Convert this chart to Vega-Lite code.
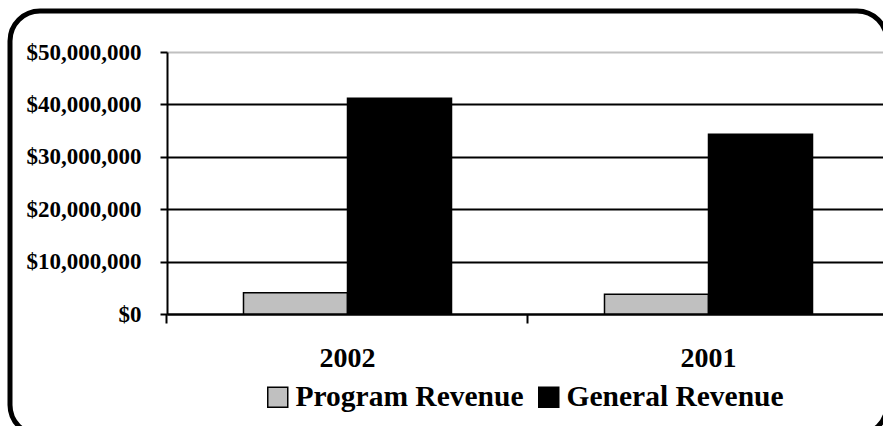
{
  "$schema": "https://vega.github.io/schema/vega-lite/v6.json",
  "width": 877,
  "height": 424,
  "autosize": {"type": "none"},
  "padding": {"left": 10, "top": 11, "right": 0, "bottom": 0},
  "background": "white",
  "config": {
    "view": {"stroke": "black", "strokeWidth": 5, "cornerRadius": 30, "fill": "white"},
    "font": "Liberation Serif",
    "axis": {
      "labelFont": "Liberation Serif",
      "labelFontWeight": "bold",
      "labelColor": "black",
      "domainColor": "black",
      "tickColor": "black"
    }
  },
  "data": {
    "values": [
      {"year": "2002", "type": "Program Revenue", "amount": 4060000},
      {"year": "2002", "type": "General Revenue", "amount": 41160000},
      {"year": "2001", "type": "Program Revenue", "amount": 3760000},
      {"year": "2001", "type": "General Revenue", "amount": 34300000}
    ]
  },
  "mark": {"type": "bar", "stroke": "black", "strokeWidth": 1.5},
  "encoding": {
    "x": {
      "field": "year",
      "type": "nominal",
      "sort": ["2002", "2001"],
      "scale": {"range": [157, 879], "paddingInner": 0.4238, "paddingOuter": 0.2119},
      "axis": {
        "title": null,
        "orient": "bottom",
        "offset": -121,
        "labelAngle": 0,
        "labelFontSize": 28,
        "tickSize": 9,
        "tickWidth": 2,
        "domainWidth": 2,
        "labelPadding": 21,
        "bandPosition": -0.3678,
        "grid": false
      }
    },
    "xOffset": {
      "field": "type",
      "type": "nominal",
      "sort": ["Program Revenue", "General Revenue"],
      "scale": {"paddingInner": 0, "paddingOuter": 0}
    },
    "y": {
      "field": "amount",
      "type": "quantitative",
      "scale": {"domain": [0, 50000000], "range": [303, 41], "nice": false, "zero": true},
      "axis": {
        "title": null,
        "offset": -157,
        "values": [0, 10000000, 20000000, 30000000, 40000000, 50000000],
        "format": "$,.0f",
        "labelFontSize": 23,
        "tickSize": 7,
        "tickWidth": 2,
        "domainWidth": 2,
        "labelPadding": 19,
        "grid": true,
        "gridWidth": 2,
        "gridColor": {"condition": {"test": "datum.value === 50000000", "value": "#c0c0c0"}, "value": "black"}
      }
    },
    "fill": {
      "field": "type",
      "type": "nominal",
      "sort": ["Program Revenue", "General Revenue"],
      "scale": {"domain": ["Program Revenue", "General Revenue"], "range": ["#c0c0c0", "#000000"]},
      "legend": {
        "title": null,
        "orient": "none",
        "legendX": 253,
        "legendY": 371,
        "direction": "horizontal",
        "symbolType": "square",
        "symbolSize": 400,
        "symbolStrokeColor": "black",
        "symbolStrokeWidth": 1.5,
        "labelFont": "Liberation Serif",
        "labelFontWeight": "bold",
        "labelFontSize": 29.5,
        "labelColor": "black",
        "labelOffset": 3,
        "columnPadding": 10,
        "labelLimit": 400
      }
    }
  }
}
